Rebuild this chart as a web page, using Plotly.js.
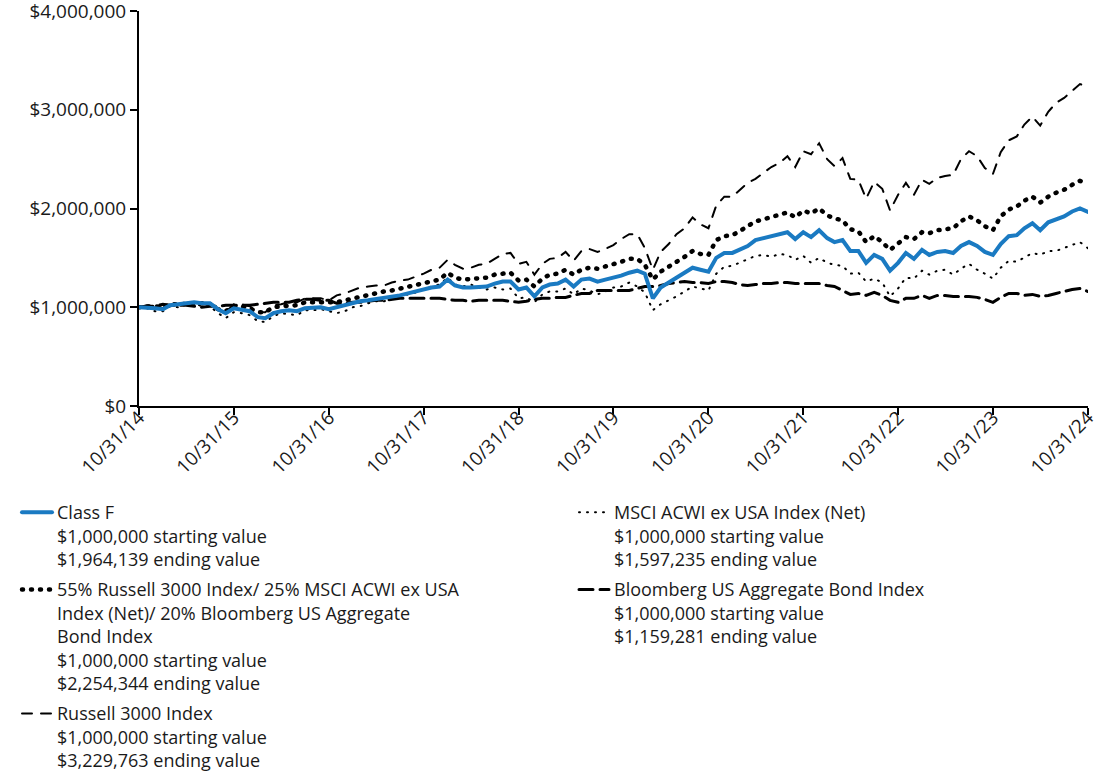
<!DOCTYPE html>
<html>
<head>
<meta charset="utf-8">
<script src="https://cdn.plot.ly/plotly-3.0.1.min.js"></script>
<style>
  html, body { margin: 0; padding: 0; background: #fff; }
  #chart { width: 1100px; height: 774px; }
  .js-line { stroke-linecap: round; }
</style>
</head>
<body>
<div id="chart"></div>
<script>
// Month-end dates 10/31/14 .. 10/31/24 (x categories)
const dates = [];
for (let m = 0; m <= 120; m++) {
  const d = new Date(Date.UTC(2014, 10 + m, 0));
  dates.push(d.toISOString().slice(0, 10));
}

const tickDates = ['2014-10-31','2015-10-31','2016-10-31','2017-10-31','2018-10-31','2019-10-31','2020-10-31','2021-10-31','2022-10-31','2023-10-31','2024-10-31'];
const tickLabels = ['10/31/14','10/31/15','10/31/16','10/31/17','10/31/18','10/31/19','10/31/20','10/31/21','10/31/22','10/31/23','10/31/24'];
const yTicks = [0, 1e6, 2e6, 3e6, 4e6];

const seriesNames = [
  'Class F<br>$1,000,000 starting value<br>$1,964,139 ending value',
  'MSCI ACWI ex USA Index (Net)<br>$1,000,000 starting value<br>$1,597,235 ending value',
  '55% Russell 3000 Index/ 25% MSCI ACWI ex USA<br>Index (Net)/ 20% Bloomberg US Aggregate<br>Bond Index<br>$1,000,000 starting value<br>$2,254,344 ending value',
  'Bloomberg US Aggregate Bond Index<br>$1,000,000 starting value<br>$1,159,281 ending value',
  'Russell 3000 Index<br>$1,000,000 starting value<br>$3,229,763 ending value'
];

const classF = [
  1.00e6,1.00e6,0.99e6,0.98e6,1.02e6,1.03e6,1.04e6,1.05e6,1.04e6,1.04e6,0.98e6,0.94e6,0.99e6,0.98e6,0.96e6,0.90e6,0.89e6,0.94e6,0.96e6,0.97e6,0.96e6,0.99e6,0.99e6,1.00e6,0.98e6,
  1.00e6,1.02e6,1.04e6,1.06e6,1.07e6,1.08e6,1.10e6,1.11e6,1.12e6,1.14e6,1.16e6,1.18e6,1.20e6,1.21e6,1.28e6,1.22e6,1.20e6,1.20e6,1.21e6,1.21e6,1.24e6,1.26e6,1.26e6,1.18e6,
  1.20e6,1.11e6,1.20e6,1.23e6,1.24e6,1.28e6,1.21e6,1.28e6,1.29e6,1.26e6,1.28e6,1.30e6,1.32e6,1.35e6,1.37e6,1.34e6,1.09e6,1.20e6,1.25e6,1.30e6,1.35e6,1.40e6,1.38e6,1.36e6,
  1.50e6,1.55e6,1.55e6,1.58e6,1.62e6,1.68e6,1.70e6,1.71e6,1.73e6,1.76e6,1.69e6,1.76e6,1.71e6,1.78e6,1.70e6,1.66e6,1.68e6,1.57e6,1.57e6,1.45e6,1.53e6,1.49e6,1.37e6,1.45e6,
  1.55e6,1.49e6,1.58e6,1.53e6,1.56e6,1.57e6,1.55e6,1.62e6,1.66e6,1.62e6,1.56e6,1.53e6,1.64e6,1.72e6,1.73e6,1.80e6,1.85e6,1.78e6,1.86e6,1.89e6,1.92e6,1.97e6,2.00e6,1964139
];

const blend = [
  1.00e6,1.01e6,1.01e6,1.00e6,1.03e6,1.03e6,1.04e6,1.04e6,1.04e6,1.03e6,0.98e6,0.96e6,1.01e6,1.01e6,0.99e6,0.95e6,0.95e6,1.00e6,1.01e6,1.02e6,1.02e6,1.05e6,1.05e6,1.05e6,1.04e6,
  1.05e6,1.07e6,1.09e6,1.11e6,1.13e6,1.14e6,1.16e6,1.17e6,1.19e6,1.21e6,1.22e6,1.25e6,1.27e6,1.28e6,1.35e6,1.30e6,1.28e6,1.29e6,1.29e6,1.30e6,1.33e6,1.34e6,1.35e6,1.27e6,
  1.28e6,1.21e6,1.29e6,1.33e6,1.34e6,1.38e6,1.33e6,1.38e6,1.40e6,1.39e6,1.41e6,1.43e6,1.46e6,1.49e6,1.49e6,1.43e6,1.28e6,1.36e6,1.41e6,1.45e6,1.51e6,1.57e6,1.54e6,1.53e6,
  1.68e6,1.72e6,1.73e6,1.77e6,1.82e6,1.87e6,1.89e6,1.91e6,1.93e6,1.96e6,1.91e6,1.98e6,1.95e6,2.00e6,1.93e6,1.90e6,1.88e6,1.79e6,1.77e6,1.66e6,1.72e6,1.66e6,1.58e6,1.65e6,
  1.71e6,1.69e6,1.76e6,1.75e6,1.78e6,1.79e6,1.80e6,1.87e6,1.92e6,1.88e6,1.82e6,1.78e6,1.92e6,1.99e6,2.02e6,2.08e6,2.12e6,2.06e6,2.12e6,2.16e6,2.19e6,2.24e6,2.28e6,2254344
];

const russell = [
  1.00e6,1.02e6,1.02e6,0.99e6,1.05e6,1.03e6,1.04e6,1.05e6,1.03e6,1.05e6,0.98e6,0.95e6,1.03e6,1.03e6,1.01e6,0.95e6,0.95e6,1.02e6,1.03e6,1.05e6,1.05e6,1.09e6,1.09e6,1.09e6,1.07e6,
  1.12e6,1.14e6,1.17e6,1.20e6,1.21e6,1.22e6,1.22e6,1.25e6,1.27e6,1.28e6,1.31e6,1.34e6,1.38e6,1.40e6,1.48e6,1.43e6,1.39e6,1.40e6,1.43e6,1.44e6,1.49e6,1.54e6,1.55e6,1.44e6,
  1.46e6,1.33e6,1.44e6,1.49e6,1.50e6,1.56e6,1.47e6,1.57e6,1.59e6,1.56e6,1.59e6,1.63e6,1.69e6,1.74e6,1.74e6,1.60e6,1.38e6,1.56e6,1.64e6,1.74e6,1.80e6,1.91e6,1.84e6,1.80e6,
  2.03e6,2.12e6,2.12e6,2.19e6,2.26e6,2.30e6,2.36e6,2.42e6,2.46e6,2.53e6,2.42e6,2.58e6,2.55e6,2.66e6,2.50e6,2.43e6,2.51e6,2.30e6,2.29e6,2.10e6,2.27e6,2.20e6,1.98e6,2.14e6,
  2.26e6,2.14e6,2.29e6,2.25e6,2.31e6,2.33e6,2.34e6,2.50e6,2.58e6,2.53e6,2.41e6,2.35e6,2.57e6,2.69e6,2.73e6,2.85e6,2.93e6,2.84e6,2.98e6,3.07e6,3.12e6,3.19e6,3.26e6,3229763
];

const msci = [
  1.00e6,0.99e6,0.96e6,0.96e6,1.01e6,1.00e6,1.05e6,1.04e6,1.01e6,1.01e6,0.94e6,0.89e6,0.95e6,0.94e6,0.92e6,0.86e6,0.85e6,0.91e6,0.94e6,0.93e6,0.92e6,0.97e6,0.97e6,0.98e6,0.96e6,
  0.94e6,0.96e6,1.00e6,1.01e6,1.04e6,1.06e6,1.06e6,1.09e6,1.10e6,1.13e6,1.15e6,1.18e6,1.21e6,1.23e6,1.30e6,1.23e6,1.21e6,1.23e6,1.20e6,1.18e6,1.20e6,1.18e6,1.19e6,1.09e6,
  1.10e6,1.05e6,1.13e6,1.16e6,1.16e6,1.19e6,1.13e6,1.19e6,1.17e6,1.13e6,1.16e6,1.20e6,1.21e6,1.25e6,1.21e6,1.15e6,0.97e6,1.03e6,1.07e6,1.11e6,1.16e6,1.21e6,1.19e6,1.17e6,
  1.34e6,1.41e6,1.42e6,1.45e6,1.48e6,1.52e6,1.53e6,1.51e6,1.54e6,1.53e6,1.48e6,1.52e6,1.45e6,1.50e6,1.45e6,1.43e6,1.42e6,1.34e6,1.35e6,1.26e6,1.29e6,1.25e6,1.11e6,1.19e6,
  1.30e6,1.29e6,1.37e6,1.33e6,1.37e6,1.38e6,1.33e6,1.39e6,1.44e6,1.38e6,1.34e6,1.29e6,1.40e6,1.47e6,1.46e6,1.50e6,1.55e6,1.53e6,1.57e6,1.57e6,1.60e6,1.63e6,1.66e6,1597235
];

const bloomberg = [
  1.00e6,1.01e6,1.01e6,1.03e6,1.02e6,1.02e6,1.02e6,1.01e6,1.00e6,1.01e6,1.01e6,1.02e6,1.02e6,1.02e6,1.02e6,1.03e6,1.04e6,1.05e6,1.05e6,1.05e6,1.07e6,1.08e6,1.08e6,1.07e6,1.07e6,
  1.04e6,1.04e6,1.05e6,1.05e6,1.06e6,1.07e6,1.07e6,1.08e6,1.09e6,1.09e6,1.09e6,1.09e6,1.09e6,1.09e6,1.08e6,1.07e6,1.07e6,1.06e6,1.07e6,1.07e6,1.07e6,1.07e6,1.06e6,1.05e6,
  1.06e6,1.08e6,1.09e6,1.09e6,1.10e6,1.10e6,1.12e6,1.14e6,1.14e6,1.17e6,1.17e6,1.17e6,1.17e6,1.17e6,1.19e6,1.21e6,1.21e6,1.22e6,1.24e6,1.25e6,1.26e6,1.25e6,1.25e6,1.24e6,
  1.26e6,1.26e6,1.25e6,1.23e6,1.22e6,1.23e6,1.24e6,1.24e6,1.25e6,1.25e6,1.24e6,1.24e6,1.24e6,1.24e6,1.22e6,1.21e6,1.17e6,1.13e6,1.14e6,1.12e6,1.15e6,1.12e6,1.07e6,1.05e6,
  1.09e6,1.09e6,1.12e6,1.09e6,1.12e6,1.12e6,1.11e6,1.11e6,1.11e6,1.10e6,1.08e6,1.05e6,1.10e6,1.14e6,1.14e6,1.12e6,1.13e6,1.11e6,1.12e6,1.14e6,1.16e6,1.18e6,1.19e6,1159281
];

const FONT = 'Open Sans, Noto Sans, sans-serif';
const TXT = '#1a1a1a';

const traces = [
  { x: dates, y: russell, name: seriesNames[4], legend: 'legend', legendgroup: 'g5', legendrank: 3, mode: 'lines',
    line: { color: '#000', width: 2, dash: '10px,9px' } },
  { x: dates, y: msci, name: seriesNames[1], legend: 'legend2', legendgroup: 'g2', legendrank: 1, mode: 'lines',
    line: { color: '#000', width: 2, dash: '1px,7px' } },
  { x: dates, y: bloomberg, name: seriesNames[3], legend: 'legend2', legendgroup: 'g4', legendrank: 2, mode: 'lines',
    line: { color: '#000', width: 3, dash: '14px,7px' } },
  { x: dates, y: blend, name: seriesNames[2], legend: 'legend', legendgroup: 'g3', legendrank: 2, mode: 'lines',
    line: { color: '#000', width: 4.5, dash: '1px,8px' } },
  { x: dates, y: classF, name: seriesNames[0], legend: 'legend', legendgroup: 'g1', legendrank: 1, mode: 'lines',
    line: { color: '#1a7ac2', width: 4 } }
];

const legendCommon = {
  orientation: 'v', xref: 'container', yref: 'container',
  xanchor: 'left', yanchor: 'top',
  valign: 'top', traceorder: 'grouped', tracegroupgap: 4,
  font: { family: FONT, size: 18, color: TXT },
  bgcolor: 'rgba(0,0,0,0)'
};

const layout = {
  width: 1100, height: 774,
  margin: { l: 139, r: 12, t: 11, b: 368, pad: 0, autoexpand: false },
  paper_bgcolor: '#fff', plot_bgcolor: '#fff',
  font: { family: FONT, size: 18, color: TXT },
  showlegend: true,
  legend: Object.assign({}, legendCommon, { x: 17 / 1100, y: 1 - 494 / 774 }),
  legend2: Object.assign({}, legendCommon, { x: 574 / 1100, y: 1 - 494 / 774 }),
  xaxis: {
    type: 'date', range: ['2014-10-31', '2024-10-31'],
    tickmode: 'array', tickvals: tickDates, ticktext: tickLabels,
    tickangle: -45, ticks: 'outside', ticklen: 7, tickwidth: 2, tickcolor: '#000',
    ticklabelstandoff: -16, automargin: false,
    showline: true, linecolor: '#000', linewidth: 2,
    showgrid: false, zeroline: false,
    tickfont: { family: FONT, size: 19, color: TXT }
  },
  yaxis: {
    range: [0, 4e6], tickmode: 'array', tickvals: yTicks, tickformat: '$,.0f',
    ticks: 'outside', ticklen: 7, tickwidth: 2, tickcolor: '#000',
    ticklabeloverflow: 'allow', automargin: false,
    showline: true, linecolor: '#000', linewidth: 2,
    showgrid: false, zeroline: false,
    tickfont: { family: FONT, size: 19, color: TXT }
  }
};

Plotly.newPlot('chart', traces, layout, { staticPlot: true, displayModeBar: false });
</script>
</body>
</html>
